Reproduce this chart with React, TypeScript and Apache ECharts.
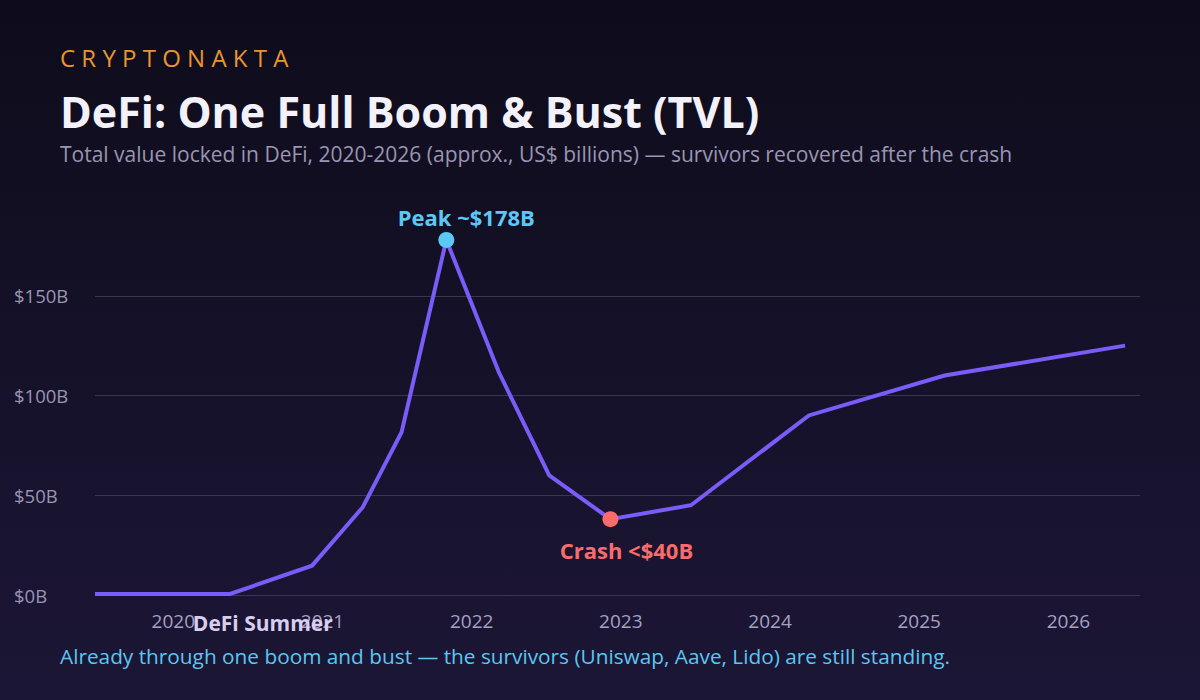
import React, { useEffect, useRef } from "react";
import * as echarts from "echarts";

const brandText = "C R Y P T O N A K T A";
const titleText = "DeFi: One Full Boom & Bust (TVL)";
const subtitleText =
  "Total value locked in DeFi, 2020-2026 (approx., US$ billions) — survivors recovered after the crash";
const footerText =
  "Already through one boom and bust — the survivors (Uniswap, Aave, Lido) are still standing.";

// decimal years and TVL (US$ billions)
const years = [2019.475, 2020.38, 2020.93, 2021.27, 2021.53, 2021.83, 2022.18, 2022.52, 2022.93, 2023.47, 2024.26, 2025.17, 2026.38];
const tvl = [0.5, 0.5, 14.7, 44, 81.6, 178, 112, 60, 38, 45, 90, 110, 125];
const yearTicks = [2020, 2021, 2022, 2023, 2024, 2025, 2026];
const yTicks = [0, 50, 100, 150];

const peakPoint = { year: 2021.83, value: 178, label: "Peak ~$178B" };
const crashPoint = { year: 2022.93, value: 38, label: "Crash <$40B" };
const summerNote = { year: 2020.6, value: 0, label: "DeFi Summer" };

const FONT = "'Open Sans', 'Noto Sans', sans-serif";

export default function App() {
  const ref = useRef<HTMLDivElement>(null);

  useEffect(() => {
    if (!ref.current) return;
    const chart = echarts.init(ref.current, undefined, { renderer: "svg" });
    const option: any = {
      animation: false,
      backgroundColor: new echarts.graphic.LinearGradient(0, 0, 0, 1, [
        { offset: 0, color: "#0e0c1b" },
        { offset: 1, color: "#1c1636" },
      ]),
      textStyle: { fontFamily: FONT },
      graphic: [
        {
          type: "text",
          x: 60,
          y: 57,
          style: { text: brandText, font: `400 24px ${FONT}`, fill: "#e8952f", textVerticalAlign: "middle" },
        },
        {
          type: "text",
          x: 60,
          y: 111,
          style: { text: titleText, font: `700 43px ${FONT}`, fill: "#f3f1fb", textVerticalAlign: "middle" },
        },
        {
          type: "text",
          x: 60,
          y: 154,
          style: { text: subtitleText, font: `400 21px ${FONT}`, fill: "#9a95b2", textVerticalAlign: "middle" },
        },
        {
          type: "text",
          x: 60,
          y: 656,
          style: { text: footerText, font: `400 20.8px ${FONT}`, fill: "#5cc6f2", textVerticalAlign: "middle" },
        },
      ],
      grid: { left: 95, right: 60, top: 196, bottom: 105 },
      xAxis: {
        type: "value",
        min: years[0],
        max: 2026.48,
        axisLine: { show: false },
        axisTick: { show: false },
        splitLine: { show: false },
        axisLabel: {
          customValues: yearTicks,
          formatter: (v: number) => String(Math.round(v)),
          color: "#a7a1c2",
          fontSize: 19,
          fontFamily: FONT,
          margin: 16,
        },
      },
      yAxis: {
        type: "value",
        min: 0,
        max: 200,
        interval: 50,
        axisLine: { show: false },
        axisTick: { show: false },
        axisLabel: {
          showMaxLabel: false,
          formatter: (v: number) => (yTicks.includes(v) ? `$${v}B` : ""),
          color: "#9a95b4",
          fontSize: 18.5,
          fontFamily: FONT,
          align: "left",
          margin: 81,
        },
        splitLine: {
          show: true,
          showMaxLine: false,
          lineStyle: { color: "#3a3552", width: 1 },
        },
      },
      series: [
        {
          type: "line",
          data: years.map((y, i) => [y, tvl[i]]),
          showSymbol: false,
          symbol: "none",
          lineStyle: { color: "#7a5cfa", width: 4, join: "miter" },
          z: 2,
          markPoint: {
            symbol: "circle",
            symbolSize: 1,
            itemStyle: { color: "rgba(0,0,0,0)" },
            label: {
              show: true,
              position: "bottom",
              distance: 17,
              formatter: summerNote.label,
              color: "#d8cff0",
              fontWeight: "bold",
              fontSize: 21,
              fontFamily: FONT,
            },
            data: [{ coord: [summerNote.year, summerNote.value] }],
          },
        },
        {
          type: "scatter",
          z: 5,
          symbolSize: 16,
          itemStyle: { opacity: 1 },
          data: [
            {
              value: [peakPoint.year, peakPoint.value],
              itemStyle: { color: "#5bc8f5", opacity: 1 },
              label: {
                show: true,
                position: "top",
                distance: 4,
                offset: [20, 0],
                formatter: peakPoint.label,
                color: "#5bc8f5",
                fontWeight: "bold",
                fontSize: 22,
                fontFamily: FONT,
              },
            },
            {
              value: [crashPoint.year, crashPoint.value],
              itemStyle: { color: "#fd6b6b", opacity: 1 },
              label: {
                show: true,
                position: "bottom",
                distance: 12,
                offset: [16, 0],
                formatter: crashPoint.label,
                color: "#fd6b6b",
                fontWeight: "bold",
                fontSize: 22,
                fontFamily: FONT,
              },
            },
          ],
        },
      ],
    };
    chart.setOption(option);
    return () => chart.dispose();
  }, []);

  return (
    <div
      ref={ref}
      style={{ position: "fixed", left: 0, top: 0, width: 1200, height: 700 }}
    />
  );
}
